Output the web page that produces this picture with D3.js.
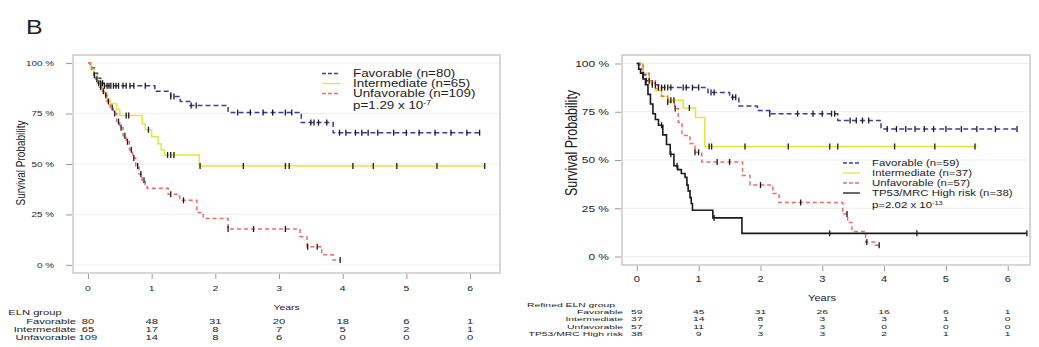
<!DOCTYPE html>
<html>
<head>
<meta charset="utf-8">
<script src="https://cdn.jsdelivr.net/npm/d3@7"></script>
<style>
  body { margin: 0; background: #fff; }
  text { font-family: "Liberation Sans", Arial, sans-serif; fill: #222; }
</style>
</head>
<body>
<svg id="chart" width="1039" height="347"></svg>
<script>
// ---- shared axes ----
const yearTicks = [0, 1, 2, 3, 4, 5, 6];
const survTicks = [0, 0.25, 0.5, 0.75, 1];
const survTickLabels = ["0 %", "25 %", "50 %", "75 %", "100 %"];

// ---- ELN groups (left panel) ----
const elnGroups = ["Favorable", "Intermediate", "Unfavorable"];
const elnN = [80, 65, 109];
const elnPvalue = "p=1.29 x 10";
const elnPexp = "-7";

const elnFavT = [0, 0.05, 0.1, 0.15, 0.2, 0.25, 1.05, 1.3, 1.45, 1.6, 2.2, 3.35, 3.85];
const elnFavS = [1, 0.975, 0.95, 0.925, 0.9, 0.8875, 0.86, 0.835, 0.81, 0.79, 0.755, 0.705, 0.655];
const elnFavEnd = 6.15;
const elnFavCens = [0.2, 0.23, 0.26, 0.3, 0.33, 0.36, 0.4, 0.44, 0.48, 0.55, 0.6, 0.66, 0.72, 0.9, 1.3, 1.35, 1.62, 1.7, 2.35, 2.55, 2.75, 2.9, 3.1, 3.2, 3.5, 3.55, 3.62, 3.75, 3.95, 4.05, 4.2, 4.3, 4.4, 4.55, 4.8, 5.0, 5.2, 5.45, 5.7, 5.95, 6.15];

const elnIntT = [0, 0.05, 0.1, 0.15, 0.2, 0.25, 0.3, 0.35, 0.45, 0.5, 0.85, 0.9, 1.0, 1.1, 1.15, 1.2, 1.75];
const elnIntS = [1, 0.97, 0.94, 0.91, 0.88, 0.85, 0.82, 0.8, 0.77, 0.74, 0.7, 0.67, 0.635, 0.6, 0.57, 0.545, 0.49];
const elnIntEnd = 6.23;
const elnIntCens = [0.6, 0.64, 0.95, 1.25, 1.3, 1.35, 1.76, 2.44, 3.1, 3.16, 4.16, 4.48, 4.85, 5.48, 6.23];

const elnUnfT = [0, 0.03, 0.06, 0.09, 0.12, 0.15, 0.18, 0.21, 0.25, 0.3, 0.35, 0.4, 0.45, 0.5, 0.55, 0.6, 0.65, 0.7, 0.75, 0.8, 0.85, 0.9, 0.93, 1.26, 1.44, 1.71, 1.81, 2.2, 3.33, 3.44, 3.67, 3.85];
const elnUnfS = [1, 0.98, 0.96, 0.94, 0.92, 0.9, 0.88, 0.86, 0.84, 0.81, 0.78, 0.75, 0.71, 0.68, 0.64, 0.61, 0.57, 0.53, 0.49, 0.45, 0.42, 0.4, 0.38, 0.35, 0.32, 0.26, 0.23, 0.178, 0.14, 0.09, 0.05, 0.025];
const elnUnfEnd = 3.96;
const elnUnfCens = [0.1, 0.14, 0.17, 0.2, 0.24, 0.28, 0.32, 0.38, 0.42, 0.48, 0.52, 0.58, 0.62, 0.68, 0.72, 0.78, 0.83, 0.88, 1.3, 1.5, 2.2, 2.6, 3.1, 3.45, 3.6, 3.96];

const elnRiskTitle = "ELN group";
const elnRiskFav = [80, 48, 31, 20, 18, 6, 1];
const elnRiskInt = [65, 17, 8, 7, 5, 2, 1];
const elnRiskUnf = [109, 14, 8, 6, 0, 0, 0];

// ---- Refined ELN groups (right panel) ----
const refGroups = ["Favorable", "Intermediate", "Unfavorable", "TP53/MRC High risk"];
const refN = [59, 37, 57, 38];
const refPvalue = "p=2.02 x 10";
const refPexp = "-13";

const refFavT = [0, 0.05, 0.1, 0.15, 0.25, 0.35, 1.15, 1.5, 1.65, 1.95, 2.15, 3.25, 3.95];
const refFavS = [1, 0.97, 0.94, 0.91, 0.89, 0.875, 0.85, 0.825, 0.78, 0.756, 0.74, 0.705, 0.66];
const refFavEnd = 6.15;
const refFavCens = [0.1, 0.15, 0.2, 0.25, 0.3, 0.35, 0.4, 0.45, 0.5, 0.55, 0.75, 0.8, 0.9, 1.0, 1.2, 1.25, 1.55, 1.6, 2.15, 2.6, 2.85, 3.0, 3.15, 3.2, 3.45, 3.55, 3.65, 3.75, 4.05, 4.2, 4.35, 4.5, 4.65, 4.8, 5.0, 5.25, 5.5, 5.8, 6.15];

const refIntT = [0, 0.1, 0.2, 0.3, 0.4, 0.5, 0.75, 0.95, 1.1];
const refIntS = [1, 0.95, 0.9, 0.86, 0.83, 0.81, 0.77, 0.72, 0.57];
const refIntEnd = 5.5;
const refIntCens = [0.55, 0.6, 0.85, 1.17, 1.21, 1.75, 2.45, 3.12, 3.25, 4.17, 4.82, 5.47];

const refUnfT = [0, 0.1, 0.2, 0.3, 0.4, 0.5, 0.61, 0.67, 0.73, 0.86, 0.94, 1.05, 1.71, 1.83, 2.2, 2.3, 3.33, 3.41, 3.48, 3.7, 3.86];
const refUnfS = [1, 0.95, 0.91, 0.87, 0.83, 0.8, 0.767, 0.695, 0.627, 0.585, 0.54, 0.49, 0.42, 0.37, 0.326, 0.28, 0.22, 0.176, 0.13, 0.075, 0.058];
const refUnfEnd = 3.92;
const refUnfCens = [0.5, 0.62, 0.94, 1.0, 1.3, 1.5, 2.0, 2.65, 3.4, 3.72, 3.92];

const refHrT = [0, 0.03, 0.06, 0.1, 0.14, 0.18, 0.22, 0.26, 0.3, 0.35, 0.42, 0.48, 0.54, 0.6, 0.66, 0.72, 0.78, 0.81, 0.83, 0.86, 0.88, 0.9, 1.23, 1.7];
const refHrS = [1, 0.97, 0.95, 0.92, 0.89, 0.84, 0.79, 0.74, 0.71, 0.68, 0.63, 0.58, 0.53, 0.47, 0.45, 0.43, 0.41, 0.37, 0.34, 0.305, 0.275, 0.24, 0.2, 0.12];
const refHrEnd = 6.31;
const refHrCens = [0.4, 0.55, 0.65, 1.25, 3.12, 4.53, 6.31];

const refRiskTitle = "Refined ELN group";
const refRiskFav = [59, 45, 31, 26, 16, 6, 1];
const refRiskInt = [37, 14, 8, 3, 3, 1, 0];
const refRiskUnf = [57, 11, 7, 3, 0, 0, 0];
const refRiskHr = [38, 9, 3, 3, 2, 1, 1];

// ---- styling ----
const COLORS = { fav: "#3b3ba8", int: "#e4e43c", unf: "#ee6a6a", hr: "#1a1a1a" };
const DASH = { fav: "5,3", int: null, unf: "4,3", hr: null };
const SX = 1.3; // horizontal text stretch used throughout

const svg = d3.select("#chart");

function label(g, x, y, str, size, anchor, sx = SX) {
  return g.append("text")
    .attr("transform", `translate(${x},${y}) scale(${sx},1)`)
    .attr("font-size", size)
    .attr("text-anchor", anchor || "start")
    .attr("dominant-baseline", "central")
    .text(str);
}

function survAt(ts, ss, t) {
  let v = ss[0];
  for (let i = 0; i < ts.length; i++) if (ts[i] <= t) v = ss[i];
  return v;
}

function drawPanel(p) {
  const g = svg.append("g");
  const x = d3.scaleLinear().domain(p.xDomain).range([p.box.left, p.box.right]);
  const y = d3.scaleLinear().domain([-0.04 * p.yPad, 1 + 0.04 * p.yPad]).range([p.box.bottom, p.box.top]);

  // grid lines
  g.selectAll("line.grid").data(survTicks).join("line")
    .attr("x1", p.box.left).attr("x2", p.box.right)
    .attr("y1", d => y(d)).attr("y2", d => y(d))
    .attr("stroke", "#eeeeee").attr("stroke-width", 1);

  // frame
  g.append("rect")
    .attr("x", p.box.left).attr("y", p.box.top)
    .attr("width", p.box.right - p.box.left).attr("height", p.box.bottom - p.box.top)
    .attr("fill", "none").attr("stroke", "#bdbdbd").attr("stroke-width", 1.2);

  // y axis
  const yAxis = d3.axisLeft(y).tickValues(survTicks).tickSize(6).tickFormat((d, i) => survTickLabels[i]);
  const ya = g.append("g").attr("transform", `translate(${p.box.left - 1},0)`).call(yAxis);
  ya.select(".domain").remove();
  ya.selectAll(".tick line").attr("stroke", "#999");
  ya.selectAll(".tick text").remove();
  survTicks.forEach((d, i) => label(g, p.box.left - p.yLabelGap, y(d), survTickLabels[i], p.yTickFont, "end"));

  // x axis
  const xAxis = d3.axisBottom(x).tickValues(yearTicks).tickSize(5);
  const xa = g.append("g").attr("transform", `translate(0,${p.box.bottom + 1})`).call(xAxis);
  xa.select(".domain").remove();
  xa.selectAll(".tick line").attr("stroke", "#999");
  xa.selectAll(".tick text").remove();
  yearTicks.forEach(d => label(g, x(d), p.xTickY, String(d), p.tickFont, "middle"));

  // axis titles
  label(g, (p.box.left + p.box.right) / 2 + p.xTitleDx, p.xTitleY, "Years", p.tickFont, "middle");
  g.append("text")
    .attr("transform", `translate(${p.yTitleX},${p.yTitleY}) rotate(-90) scale(1,${SX})`)
    .attr("font-size", p.yTitleFont).attr("text-anchor", "middle")
    .attr("dominant-baseline", "central")
    .text("Survival Probability");

  // curves
  const line = d3.line().x(d => x(d[0])).y(d => y(d[1])).curve(d3.curveStepAfter);
  p.series.forEach(s => {
    const pts = s.t.map((t, i) => [t, s.s[i]]);
    pts.push([s.end, s.s[s.s.length - 1]]);
    g.append("path").datum(pts)
      .attr("d", line).attr("fill", "none")
      .attr("stroke", COLORS[s.key]).attr("stroke-width", s.key === "hr" ? 1.6 : 1.5)
      .attr("stroke-dasharray", DASH[s.key]);
  });
  // censoring marks
  p.series.forEach(s => {
    g.selectAll(null).data(s.cens).join("line")
      .attr("x1", d => x(d)).attr("x2", d => x(d))
      .attr("y1", d => y(survAt(s.t, s.s, d)) - 3)
      .attr("y2", d => y(survAt(s.t, s.s, d)) + 3)
      .attr("stroke", "#1a1a1a").attr("stroke-width", 1.3);
  });

  // legend
  const lg = p.legend;
  p.series.forEach((s, i) => {
    const ly = lg.y + i * lg.dy;
    g.append("line")
      .attr("x1", lg.x).attr("x2", lg.x + lg.len)
      .attr("y1", ly).attr("y2", ly)
      .attr("stroke", COLORS[s.key]).attr("stroke-width", 1.3)
      .attr("stroke-dasharray", DASH[s.key] ? "4,2" : null);
    label(g, lg.tx, ly, `${s.name} (n=${s.n})`, lg.font, "start");
  });
  const py = lg.y + p.series.length * lg.dy + 2;
  const pt = label(g, lg.tx, py, p.pText, lg.font, "start");
  pt.append("tspan").attr("dy", -3).attr("font-size", lg.font * 0.65).text(p.pExp);

  // number at risk table
  const rt = p.risk;
  label(g, rt.titleX, rt.titleY, rt.title, rt.font, rt.titleAnchor, rt.sx);
  rt.rows.forEach((row, i) => {
    const ry = rt.y0 + i * rt.dy;
    label(g, rt.labelX, ry, row.name, rt.font, "end", rt.sx);
    row.values.forEach((v, j) => label(g, x(yearTicks[j]), ry, String(v), rt.font, "middle", rt.sx));
  });
}

// panel letter
label(svg, 26, 27, "B", 20, "start", 1.25);

drawPanel({
  box: { left: 73, right: 500, top: 55, bottom: 273 },
  xDomain: [-0.235, 6.47], yPad: 1,
  tickFont: 8, yTickFont: 7.6, yLabelGap: 19, xTickY: 288, xTitleY: 307, xTitleDx: 0,
  yTitleX: 21, yTitleY: 163, yTitleFont: 10,
  series: [
    { key: "fav", name: elnGroups[0], n: elnN[0], t: elnFavT, s: elnFavS, end: elnFavEnd, cens: elnFavCens },
    { key: "int", name: elnGroups[1], n: elnN[1], t: elnIntT, s: elnIntS, end: elnIntEnd, cens: elnIntCens },
    { key: "unf", name: elnGroups[2], n: elnN[2], t: elnUnfT, s: elnUnfS, end: elnUnfEnd, cens: elnUnfCens }
  ],
  legend: { x: 322, len: 18, tx: 353, y: 73.5, dy: 10, font: 10.3 },
  pText: elnPvalue, pExp: elnPexp,
  risk: {
    title: elnRiskTitle, titleX: 35, titleY: 313, titleAnchor: "middle",
    labelX: 76, y0: 321.5, dy: 8.3, font: 6.8, sx: 1.65,
    rows: [
      { name: elnGroups[0], values: elnRiskFav },
      { name: elnGroups[1], values: elnRiskInt },
      { name: elnGroups[2], values: elnRiskUnf }
    ]
  }
});

drawPanel({
  box: { left: 622, right: 1030, top: 55, bottom: 265 },
  xDomain: [-0.24, 6.36], yPad: 1.1,
  tickFont: 8.5, yTickFont: 9.2, yLabelGap: 13, xTickY: 279, xTitleY: 298, xTitleDx: -4,
  yTitleX: 571, yTitleY: 143, yTitleFont: 12.5,
  series: [
    { key: "fav", name: refGroups[0], n: refN[0], t: refFavT, s: refFavS, end: refFavEnd, cens: refFavCens },
    { key: "int", name: refGroups[1], n: refN[1], t: refIntT, s: refIntS, end: refIntEnd, cens: refIntCens },
    { key: "unf", name: refGroups[2], n: refN[2], t: refUnfT, s: refUnfS, end: refUnfEnd, cens: refUnfCens },
    { key: "hr", name: refGroups[3], n: refN[3], t: refHrT, s: refHrS, end: refHrEnd, cens: refHrCens }
  ],
  legend: { x: 843, len: 17, tx: 872, y: 163, dy: 10, font: 8.8 },
  pText: refPvalue, pExp: refPexp,
  risk: {
    title: refRiskTitle, titleX: 571, titleY: 304.5, titleAnchor: "middle",
    labelX: 623, y0: 312, dy: 7.2, font: 6.1, sx: 1.7,
    rows: [
      { name: refGroups[0], values: refRiskFav },
      { name: refGroups[1], values: refRiskInt },
      { name: refGroups[2], values: refRiskUnf },
      { name: refGroups[3], values: refRiskHr }
    ]
  }
});
</script>
</body>
</html>
